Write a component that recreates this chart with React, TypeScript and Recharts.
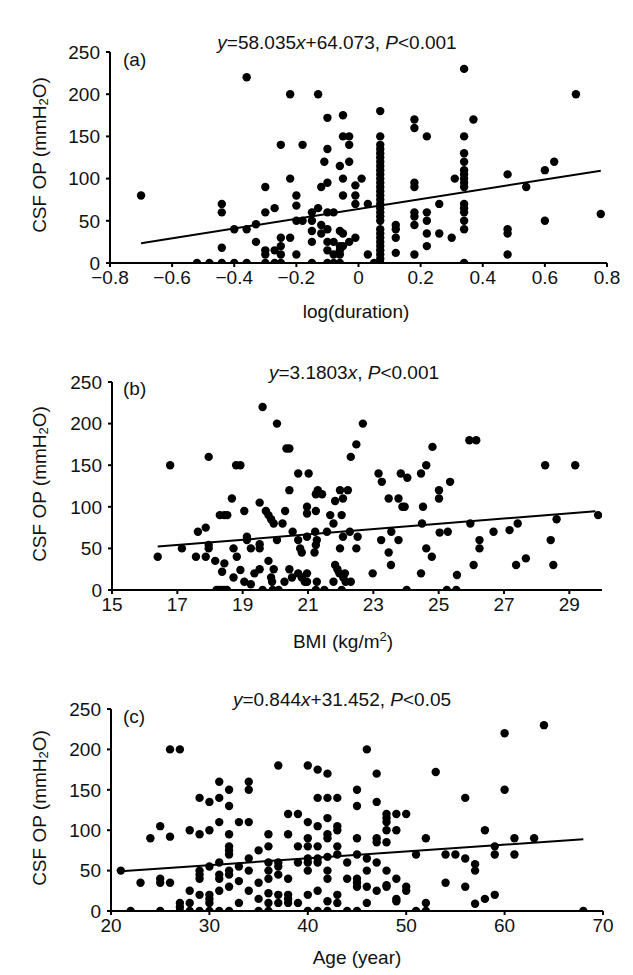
import React from 'react';
import { ScatterChart, Scatter, XAxis, YAxis } from 'recharts';

const FONT = '"Liberation Sans", Arial, Helvetica, sans-serif';
const INK = '#111';

// (a) log(duration) vs CSF OP
const durationPoints: [number, number][] = [
  [-0.70, 80],
  [-0.52, 0], [-0.48, 0], [-0.44, 0], [-0.40, 0], [-0.36, 0],
  [-0.44, 70], [-0.44, 60], [-0.44, 18],
  [-0.40, 40], [-0.36, 40], [-0.33, 46], [-0.33, 25],
  [-0.36, 220],
  [-0.30, 90], [-0.30, 60], [-0.30, 15], [-0.30, 10], [-0.30, 0],
  [-0.27, 65], [-0.27, 15], [-0.27, 0],
  [-0.25, 140], [-0.25, 30], [-0.25, 20], [-0.25, 10], [-0.25, 0],
  [-0.22, 200], [-0.22, 100], [-0.22, 30],
  [-0.20, 80], [-0.20, 68], [-0.20, 50], [-0.20, 10],
  [-0.18, 140], [-0.18, 50],
  [-0.15, 60], [-0.15, 50], [-0.15, 38], [-0.15, 25], [-0.15, 0],
  [-0.13, 200], [-0.13, 65], [-0.12, 90], [-0.12, 45], [-0.12, 35],
  [-0.11, 120],
  [-0.10, 172], [-0.10, 135], [-0.10, 95], [-0.10, 60], [-0.10, 40], [-0.10, 25], [-0.10, 15], [-0.10, 0],
  [-0.08, 60], [-0.08, 25], [-0.08, 10], [-0.08, 0],
  [-0.06, 115], [-0.06, 38], [-0.06, 20], [-0.06, 15], [-0.06, 10], [-0.06, 0],
  [-0.05, 175], [-0.05, 150], [-0.03, 150], [-0.03, 140], [-0.03, 120],
  [-0.05, 100], [-0.05, 80], [-0.01, 92], [0.01, 100], [-0.01, 80], [-0.01, 70], [0.03, 70],
  [-0.05, 35], [-0.03, 25], [-0.01, 30], [-0.05, 20],
  [0.03, 10], [0.05, 0],
  [0.07, 180], [0.07, 150], [0.07, 140], [0.07, 135], [0.07, 130], [0.07, 125], [0.07, 120],
  [0.07, 115], [0.07, 110], [0.07, 105], [0.07, 100], [0.07, 95], [0.07, 90], [0.07, 85],
  [0.07, 80], [0.07, 75], [0.07, 70], [0.07, 65], [0.07, 60], [0.07, 55], [0.07, 50],
  [0.07, 40], [0.07, 35], [0.07, 30], [0.07, 25], [0.07, 20], [0.07, 15], [0.07, 10],
  [0.07, 5], [0.07, 0],
  [0.12, 45], [0.12, 40], [0.12, 30], [0.12, 12],
  [0.18, 170], [0.18, 160], [0.18, 95], [0.18, 90], [0.18, 60], [0.18, 55], [0.18, 45], [0.18, 10],
  [0.22, 150], [0.22, 60], [0.22, 50], [0.22, 35], [0.22, 20],
  [0.26, 70], [0.26, 35],
  [0.30, 30], [0.31, 100],
  [0.34, 230], [0.34, 150], [0.34, 130], [0.34, 120], [0.34, 110], [0.34, 105], [0.34, 100],
  [0.34, 95], [0.34, 90], [0.34, 70], [0.34, 65], [0.34, 60], [0.34, 50], [0.34, 40], [0.34, 0],
  [0.37, 170],
  [0.48, 105], [0.48, 40], [0.48, 35], [0.48, 10],
  [0.54, 90], [0.60, 110], [0.60, 50], [0.63, 120], [0.70, 200], [0.78, 58],
];
const durationFit = { slope: 58.035, intercept: 64.073, from: -0.7, to: 0.78 };
const durationTicks = [-0.8, -0.6, -0.4, -0.2, 0, 0.2, 0.4, 0.6, 0.8];

// (b) BMI vs CSF OP
const bmiPoints: [number, number][] = [
  [19.61, 220], [20.05, 200], [20.34, 170], [20.43, 170], [16.78, 150], [17.96, 160],
  [18.80, 150], [18.93, 150], [20.70, 140], [21.02, 140], [20.43, 120], [21.30, 120],
  [21.24, 115], [21.43, 115], [21.98, 120], [22.22, 120], [22.07, 110], [21.83, 107],
  [18.67, 110], [19.52, 105], [19.71, 95], [20.30, 95], [20.97, 100], [20.97, 92],
  [21.24, 95], [21.68, 90], [22.03, 90], [19.05, 95], [18.30, 90], [18.44, 90], [18.53, 90],
  [19.79, 90], [19.87, 85], [19.95, 80], [20.22, 80], [21.78, 80], [17.87, 75], [17.63, 70],
  [20.53, 70], [21.58, 70], [21.22, 70], [22.28, 70], [17.14, 50], [16.40, 40], [17.57, 40],
  [17.87, 40], [17.96, 50], [17.96, 54], [18.16, 35], [18.37, 22], [18.44, 32], [18.72, 50],
  [18.82, 40], [18.72, 15], [18.93, 24], [19.13, 64], [19.13, 60], [19.25, 50], [19.05, 10],
  [19.25, 7], [19.36, 20], [19.52, 25], [19.52, 55], [19.52, 50], [19.79, 35], [19.95, 25],
  [19.87, 15], [19.90, 10], [20.05, 60], [20.28, 10], [20.43, 25], [20.51, 15], [20.70, 60],
  [20.76, 50], [20.81, 45], [20.70, 20], [20.81, 15], [20.90, 10], [20.97, 20], [20.97, 10],
  [21.20, 45], [21.27, 60], [21.24, 54], [20.97, 64], [21.27, 10], [21.78, 10], [21.83, 30],
  [21.90, 25], [21.96, 20], [22.13, 20], [22.08, 15], [22.15, 10], [22.31, 10], [21.98, 50],
  [22.07, 64], [22.48, 50], [22.52, 64], [22.48, 175], [22.31, 160],
  [18.20, 0], [18.28, 0], [18.36, 0], [18.44, 0], [18.52, 0], [19.61, 0], [19.92, 0],
  [20.10, 0], [21.24, 0], [21.50, 0], [22.03, 0],
  [22.68, 200], [25.94, 180], [26.15, 180], [24.81, 172], [28.26, 150], [29.18, 150],
  [24.62, 150], [23.16, 140], [23.26, 130], [23.84, 140], [24.04, 135], [24.46, 140],
  [25.35, 130], [23.47, 110], [23.77, 110], [23.89, 100], [23.96, 100], [24.52, 100],
  [25.01, 120], [25.01, 110], [24.49, 80], [25.97, 80], [27.42, 80], [28.61, 85], [29.88, 90],
  [23.55, 70], [23.24, 60], [23.77, 60], [23.47, 45], [23.54, 30], [22.98, 20], [25.03, 69],
  [25.28, 70], [24.62, 50], [24.79, 40], [24.46, 20], [25.56, 18], [26.07, 30], [26.25, 60],
  [26.25, 50], [26.68, 70], [27.17, 72], [27.37, 30], [27.67, 38], [28.43, 60], [28.51, 30],
  [24.02, 0], [25.25, 0], [25.54, 0],
];
const bmiFit = { slope: 3.1803, intercept: 0, from: 16.4, to: 29.8 };
const bmiTicks = [15, 17, 19, 21, 23, 25, 27, 29];

// (c) age vs CSF OP
const agePoints: [number, number][] = [
  [21, 50], [22, 0], [23, 35], [24, 90], [25, 105], [25, 40], [25, 35], [25, 0],
  [26, 200], [27, 200], [26, 92], [26, 35],
  [27, 10], [27, 5], [27, 0], [28, 100], [28, 25], [28, 10], [28, 0],
  [29, 140], [29, 95], [29, 50], [29, 45], [29, 40], [29, 20], [29, 0],
  [30, 135], [30, 100], [30, 55], [30, 20], [30, 15], [30, 10], [30, 0],
  [31, 160], [31, 140], [31, 110], [31, 60], [31, 45], [31, 40], [31, 25], [31, 0],
  [32, 150], [32, 130], [32, 95], [32, 80], [32, 75], [32, 70], [32, 50], [32, 45], [32, 30], [32, 0],
  [33, 110], [33, 55], [33, 37], [33, 10],
  [34, 160], [34, 150], [34, 110], [34, 65], [34, 50], [34, 25],
  [35, 75], [35, 35], [35, 15], [35, 0],
  [36, 95], [36, 80], [36, 60], [36, 50], [36, 40], [36, 22], [36, 10], [36, 0],
  [37, 180], [37, 60], [37, 55], [37, 45], [37, 20], [37, 10],
  [38, 120], [38, 95], [38, 40], [38, 20], [38, 15], [38, 10],
  [39, 120], [39, 80], [39, 60], [39, 10],
  [40, 180], [40, 110], [40, 90], [40, 80], [40, 65], [40, 60], [40, 50], [40, 20], [40, 0],
  [41, 175], [41, 140], [41, 105], [41, 80], [41, 65], [41, 60], [41, 25], [41, 0],
  [42, 170], [42, 140], [42, 115], [42, 95], [42, 90], [42, 67], [42, 50], [42, 40], [42, 12], [42, 0],
  [43, 140], [43, 105], [43, 100], [43, 80], [43, 70], [43, 20], [43, 10],
  [44, 60], [44, 40], [44, 0],
  [45, 150], [45, 130], [45, 90], [45, 70], [45, 40], [45, 35], [45, 30], [45, 0],
  [46, 200], [46, 65], [46, 50], [46, 30], [46, 10],
  [47, 170], [47, 135], [47, 90], [47, 85], [47, 60], [47, 25],
  [48, 120], [48, 115], [48, 110], [48, 100], [48, 85], [48, 50], [48, 32], [48, 30],
  [49, 120], [49, 100], [49, 40], [49, 15], [49, 12],
  [50, 120], [50, 30], [50, 25],
  [51, 70], [51, 0], [52, 90], [52, 10], [52, 0], [53, 172], [54, 70], [54, 35], [55, 70],
  [56, 140], [56, 65], [56, 30], [57, 58], [57, 50], [57, 9], [58, 100], [58, 15],
  [59, 80], [59, 70], [59, 20], [60, 220], [60, 150], [61, 90], [61, 70], [63, 90],
  [64, 230], [68, 0],
];
const ageFit = { slope: 0.844, intercept: 31.452, from: 21, to: 68 };
const ageTicks = [20, 30, 40, 50, 60, 70];

const pressureTicks = [0, 50, 100, 150, 200, 250];

type Fit = { slope: number; intercept: number; from: number; to: number };

const fitLine = (f: Fit) => [
  { x: f.from, y: f.slope * f.from + f.intercept },
  { x: f.to, y: f.slope * f.to + f.intercept },
];

const formatDuration = (v: number) =>
  v === 0 ? '0' : (v < 0 ? '\u2212' : '') + Math.abs(v).toFixed(1);

const axisStyle = { stroke: '#000', strokeWidth: 2 };
const tickStyle = { fontSize: 19, fill: INK, fontFamily: FONT };

function Dot(props: any) {
  const { cx, cy } = props;
  if (cx == null || cy == null) return <g />;
  return <circle cx={cx} cy={cy} r={4.2} fill="#000" />;
}

interface PanelProps {
  top: number;
  points: [number, number][];
  fit: Fit;
  domain: [number, number];
  ticks: number[];
  format?: (v: number) => string;
  yWidth: number;
  plotWidth: number;
  plotHeight: number;
}

function Panel({ top, points, fit, domain, ticks, format, yWidth, plotWidth, plotHeight }: PanelProps) {
  const data = points.map(([x, y]) => ({ x, y }));
  return (
    <div style={{ position: 'absolute', left: 0, top }}>
      <ScatterChart
        width={633}
        height={52 + plotHeight + 60}
        margin={{ top: 52, right: 633 - yWidth - plotWidth, bottom: 0, left: 0 }}
      >
        <XAxis
          type="number"
          dataKey="x"
          domain={domain}
          ticks={ticks}
          interval={0}
          allowDataOverflow
          tickFormatter={format}
          height={60}
          axisLine={axisStyle}
          tickLine={axisStyle}
          tickSize={4}
          tickMargin={4}
          tick={tickStyle}
        />
        <YAxis
          type="number"
          dataKey="y"
          domain={[0, 250]}
          ticks={pressureTicks}
          interval={0}
          allowDataOverflow
          width={yWidth}
          axisLine={axisStyle}
          tickLine={axisStyle}
          tickSize={4}
          tickMargin={6}
          tick={tickStyle}
        />
        <Scatter data={data} shape={Dot} isAnimationActive={false} />
        <Scatter
          data={fitLine(fit)}
          line={{ stroke: '#000', strokeWidth: 2 }}
          shape={() => <g />}
          isAnimationActive={false}
        />
      </ScatterChart>
    </div>
  );
}

function YTitle({ cy }: { cy: number }) {
  return (
    <text transform={`translate(39,${cy}) rotate(-90)`} textAnchor="middle" dominantBaseline="central">
      CSF OP (mmH<tspan fontSize={13} dy={4}>2</tspan>
      <tspan dy={-4}>O)</tspan>
    </text>
  );
}

export default function App() {
  return (
    <div
      style={{
        position: 'absolute',
        left: 0,
        top: 0,
        width: 633,
        height: 975,
        background: '#fff',
        fontFamily: FONT,
      }}
    >
      <Panel top={0} points={durationPoints} fit={durationFit} domain={[-0.8, 0.8]} ticks={durationTicks}
        format={formatDuration} yWidth={110} plotWidth={497} plotHeight={211} />
      <Panel top={330} points={bmiPoints} fit={bmiFit} domain={[15, 30]} ticks={bmiTicks}
        yWidth={112} plotWidth={490} plotHeight={208} />
      <Panel top={657} points={agePoints} fit={ageFit} domain={[20, 70]} ticks={ageTicks}
        yWidth={111} plotWidth={492} plotHeight={202} />

      <svg width={633} height={975} style={{ position: 'absolute', left: 0, top: 0, pointerEvents: 'none' }}
        fontFamily={FONT} fontSize={19} fill={INK}>
        <text x={337} y={49} textAnchor="middle">
          <tspan fontStyle="italic">y</tspan>=58.035<tspan fontStyle="italic">x</tspan>+64.073,{' '}
          <tspan fontStyle="italic">P</tspan>&lt;0.001
        </text>
        <text x={354} y={379} textAnchor="middle">
          <tspan fontStyle="italic">y</tspan>=3.1803<tspan fontStyle="italic">x</tspan>,{' '}
          <tspan fontStyle="italic">P</tspan>&lt;0.001
        </text>
        <text x={342} y={706} textAnchor="middle">
          <tspan fontStyle="italic">y</tspan>=0.844<tspan fontStyle="italic">x</tspan>+31.452,{' '}
          <tspan fontStyle="italic">P</tspan>&lt;0.05
        </text>

        <text x={123} y={66}>(a)</text>
        <text x={123} y={395}>(b)</text>
        <text x={123} y={723}>(c)</text>

        <YTitle cy={155} />
        <YTitle cy={484} />
        <YTitle cy={808} />

        <text x={356} y={318} textAnchor="middle">log(duration)</text>
        <text x={343} y={648} textAnchor="middle">
          BMI (kg/m<tspan fontSize={13} dy={-7}>2</tspan>
          <tspan dy={7}>)</tspan>
        </text>
        <text x={357} y={964} textAnchor="middle">Age (year)</text>
      </svg>
    </div>
  );
}
